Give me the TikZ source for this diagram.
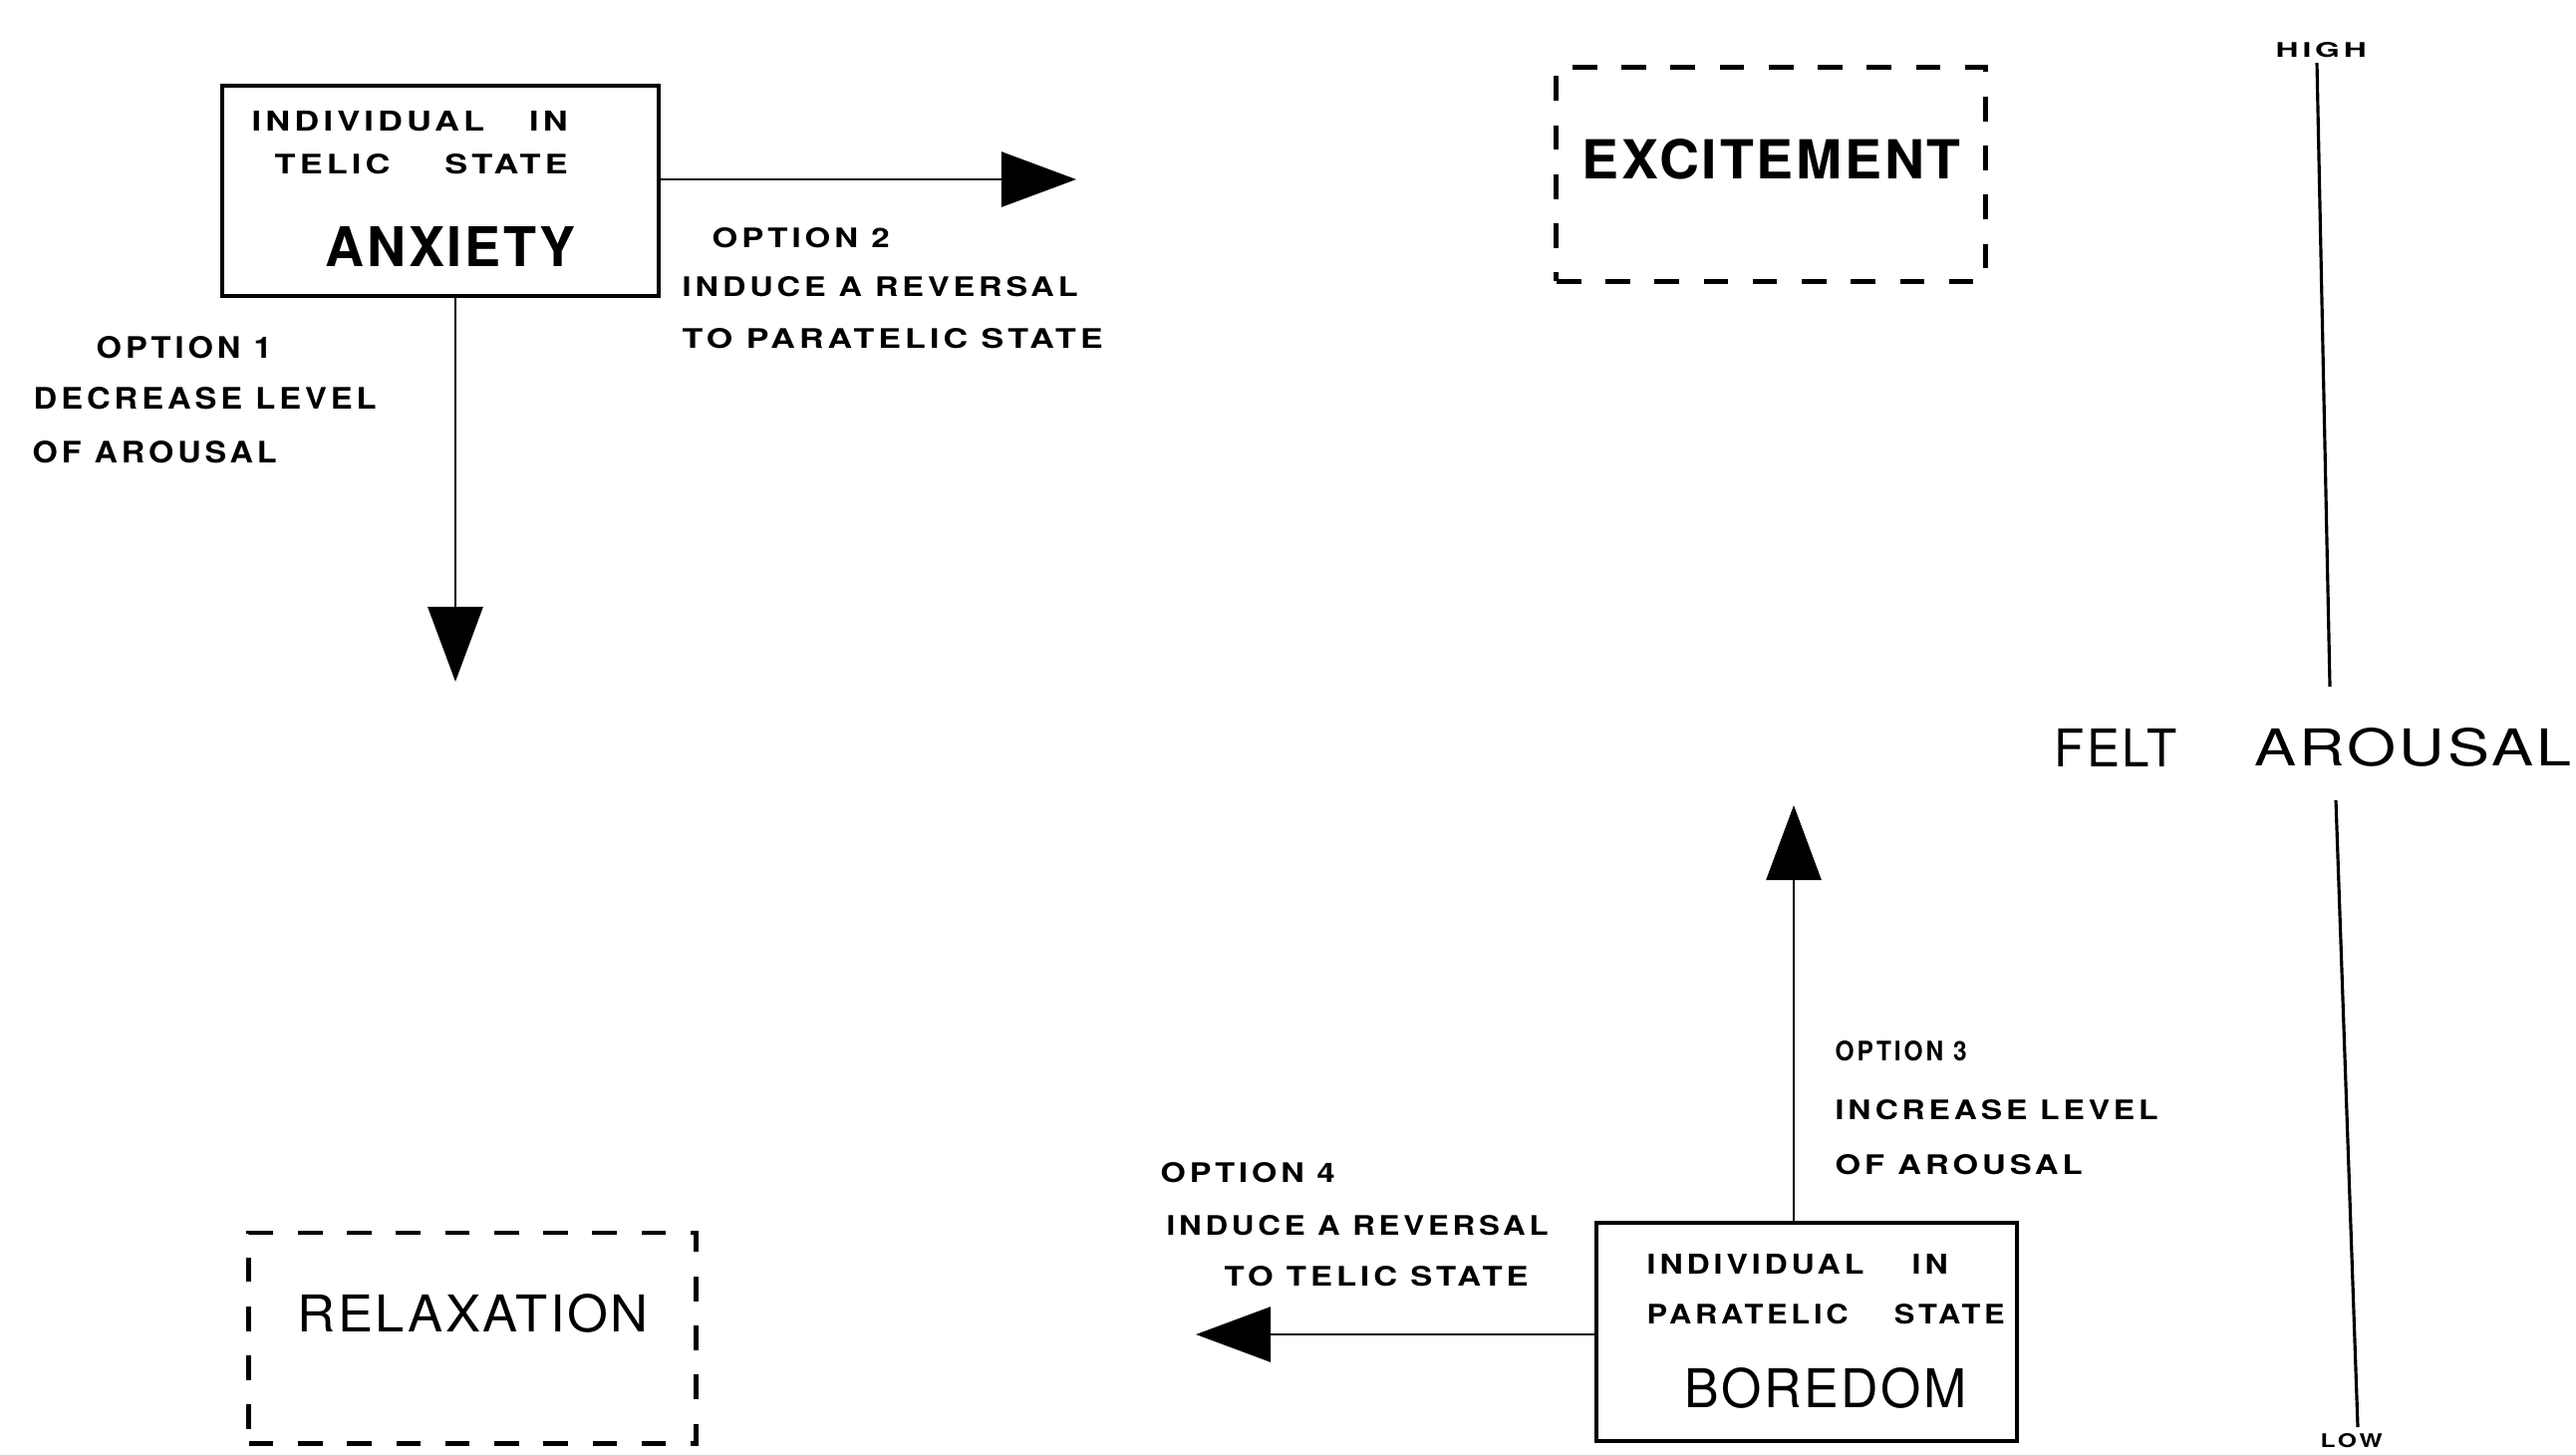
\documentclass[tikz,border=0pt]{standalone}
\usepackage{fontspec}
\usepackage{graphicx}
\setmainfont{TeX Gyre Heros}
\newfontfamily\smallfnt[LetterSpace=12]{TeX Gyre Heros Bold}
\newfontfamily\bigfnt[LetterSpace=5]{TeX Gyre Heros}
\newfontfamily\bigbold[LetterSpace=5]{TeX Gyre Heros Bold}
\usetikzlibrary{arrows.meta}
\newlength\mypx
\setlength\mypx{0.01cm}
\newcommand{\ft}[3]{\resizebox{#1\mypx}{#2\mypx}{#3}}
\tikzset{
  lbl/.style={inner sep=0pt, anchor=west},
  solidbox/.style={draw, line width=1.3pt, inner sep=0pt},
  dashbox/.style={draw, line width=1.4pt, dash pattern=on 7pt off 7pt, inner sep=0pt},
  arr/.style={line width=0.8pt, -{Triangle[length=0.75cm, width=0.55cm]}},
  axisline/.style={line width=0.9pt}
}
\begin{document}
\begin{tikzpicture}[x=0.01cm, y=-0.01cm]
\useasboundingbox (0,0) rectangle (2585,1459);
\clip (0,0) rectangle (2585,1459);
\fill[white] (0,0) rectangle (2585,1459);

% boxes
\node[solidbox, minimum width=4.38cm, minimum height=2.11cm] (anx) at (442,191.5) {};
\node[solidbox, minimum width=4.22cm, minimum height=2.19cm] (bor) at (1813,1336.5) {};
\node[dashbox, minimum width=4.30cm, minimum height=2.14cm] (exc) at (1777,175) {};
\node[dashbox, minimum width=4.48cm, minimum height=2.11cm] (rel) at (474,1342.5) {};

% anxiety box texts
\node[lbl] (a1) at (252,122) {\ft{317}{20}{\smallfnt INDIVIDUAL\hspace{1.3em}IN}};
\node[lbl] (a2) at (275,165) {\ft{294}{20}{\smallfnt TELIC\hspace{1.6em}STATE}};
\node[lbl] (a3) at (326,247) {\ft{251}{40}{\bigbold ANXIETY}};

% option 2
\node[lbl] (o2a) at (714,239) {\ft{178}{20}{\smallfnt OPTION 2}};
\node[lbl] (o2b) at (684,288) {\ft{397}{20}{\smallfnt INDUCE A REVERSAL}};
\node[lbl] (o2c) at (684,340) {\ft{422}{20}{\smallfnt TO PARATELIC STATE}};

% option 1
\node[lbl] (o1a) at (96,349) {\ft{176}{22}{\smallfnt OPTION 1}};
\node[lbl] (o1b) at (33,400) {\ft{344}{22}{\smallfnt DECREASE LEVEL}};
\node[lbl] (o1c) at (32,454) {\ft{245}{22}{\smallfnt OF AROUSAL}};

% excitement
\node[lbl] (e1) at (1587,160) {\ft{380}{40}{\bigbold EXCITEMENT}};

% relaxation
\node[lbl] (r1) at (298,1318) {\ft{352}{38}{\bigfnt RELAXATION}};

% axis
\node[lbl] (high) at (2283,50) {\ft{91}{15}{\smallfnt HIGH}};
\node[lbl] (felt) at (2061,750) {\ft{123}{38}{\bigfnt FELT}};
\node[lbl] (arou) at (2262,750) {\ft{318}{38}{\bigfnt AROUSAL}};
\node[lbl] (low) at (2328,1446) {\ft{62}{14}{\smallfnt LOW}};
\coordinate (ax1) at (2325,63);
\coordinate (ax2) at (2338,689);
\coordinate (ax3) at (2344,803);
\coordinate (ax4) at (2366,1432);
\draw[axisline] (ax1) -- (ax2);
\draw[axisline] (ax3) -- (ax4);

% option 3
\node[lbl] (o3a) at (1841,1055) {\ft{132}{20}{\smallfnt OPTION 3}};
\node[lbl] (o3b) at (1841,1114) {\ft{324}{20}{\smallfnt INCREASE LEVEL}};
\node[lbl] (o3c) at (1841,1169) {\ft{248}{20}{\smallfnt OF AROUSAL}};

% option 4
\node[lbl] (o4a) at (1164,1177) {\ft{175}{20}{\smallfnt OPTION 4}};
\node[lbl] (o4b) at (1170,1230) {\ft{383}{20}{\smallfnt INDUCE A REVERSAL}};
\node[lbl] (o4c) at (1228,1281) {\ft{305}{20}{\smallfnt TO TELIC STATE}};

% boredom box texts
\node[lbl] (b1) at (1652,1269) {\ft{302}{20}{\smallfnt INDIVIDUAL\hspace{1.5em}IN}};
\node[lbl] (b2) at (1652,1319) {\ft{359}{20}{\smallfnt PARATELIC\hspace{1.5em}STATE}};
\node[lbl] (b3) at (1690,1393) {\ft{283}{40}{\bigfnt BOREDOM}};

% arrows
\coordinate (dn) at (457,684);
\coordinate (rt) at (1080,180);
\coordinate (up) at (1800,808);
\coordinate (lf) at (1200,1339);
\draw[arr] (anx.south -| dn) -- (dn);
\draw[arr] (anx.east |- rt) -- (rt);
\draw[arr] (bor.north -| up) -- (up);
\draw[arr] (bor.west |- lf) -- (lf);
\end{tikzpicture}
\end{document}
